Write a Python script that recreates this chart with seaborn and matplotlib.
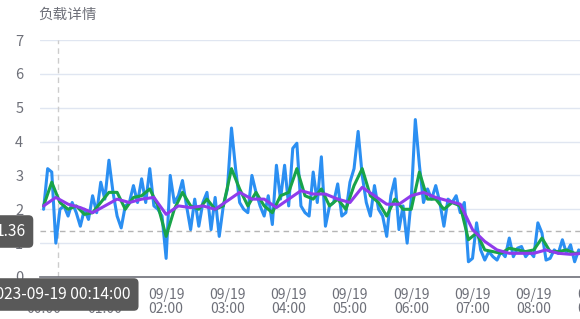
import pandas as pd
import matplotlib
matplotlib.use("Agg")
import matplotlib.pyplot as plt
import matplotlib.dates as mdates
import seaborn as sns

# Server load, 2023-09-19, minutes after midnight
START = pd.Timestamp("2023-09-19 00:00:00")

load1_minutes = list(range(0, 529, 4))
load1 = [
    2.0, 3.2, 3.1, 1.0, 2.0, 2.1, 1.8, 2.2, 1.9, 1.5,
    2.0, 1.7, 2.4, 1.9, 2.8, 2.3, 3.45, 2.5, 1.8, 1.45,
    2.1, 2.2, 2.7, 2.2, 2.9, 2.2, 3.2, 2.1, 2.0, 1.8,
    0.55, 3.0, 2.2, 2.4, 2.85, 2.1, 1.4, 2.3, 1.5, 2.2,
    2.5, 1.4, 2.35, 1.2, 2.1, 2.6, 4.4, 3.2, 2.2, 2.0,
    1.9, 3.0, 2.5, 2.1, 1.8, 2.4, 1.55, 3.3, 2.3, 3.3,
    2.1, 3.8, 3.95, 2.1, 1.9, 1.8, 3.1, 2.2, 3.55, 1.5,
    2.1, 2.2, 2.75, 1.8, 1.9, 2.8, 3.2, 4.3, 3.0, 2.2,
    1.8, 2.7, 2.0, 1.8, 1.2, 2.4, 2.9, 1.4, 2.1, 1.0,
    2.3, 4.65, 3.3, 2.2, 2.6, 2.3, 2.7, 2.2, 1.5, 2.3,
    2.2, 2.4, 1.9, 2.2, 0.45, 0.55, 1.6, 0.8, 0.5, 0.75,
    0.6, 0.5, 0.75, 0.6, 1.15, 0.6, 0.85, 0.9, 0.6, 0.75,
    0.6, 1.6, 1.3, 0.5, 0.55, 0.8, 0.7, 1.1, 0.7, 0.95,
    0.45, 0.8, 0.7,
]

load5_minutes = list(range(0, 529, 8))
load5 = [
    2.1, 2.8, 2.2, 2.0, 2.1, 1.85, 1.9, 2.2, 2.5, 2.5,
    2.0, 2.35, 2.4, 2.6, 2.1, 1.2, 2.0, 2.5, 2.1, 2.0,
    2.3, 2.0, 2.1, 3.2, 2.6, 2.1, 2.5, 2.1, 1.9, 2.4,
    2.5, 3.2, 2.4, 2.3, 2.6, 2.1, 2.3, 2.0, 2.7, 3.2,
    2.4, 2.2, 1.8, 2.3, 2.0, 2.0, 3.1, 2.3, 2.3, 2.0,
    2.2, 2.1, 1.1, 1.3, 0.8, 0.75, 0.7, 0.85, 0.8, 0.75,
    0.8, 1.15, 0.75, 0.75, 0.8, 0.7, 0.7,
]

load15_minutes = list(range(0, 529, 12))
load15 = [
    2.1, 2.35, 2.15, 2.05, 1.9, 2.1, 2.3, 2.2, 2.3, 2.35,
    1.85, 2.1, 2.05, 2.1, 2.0, 2.25, 2.5, 2.3, 2.3, 2.05,
    2.3, 2.55, 2.45, 2.45, 2.3, 2.2, 2.65, 2.4, 2.15, 2.15,
    2.4, 2.5, 2.35, 2.25, 2.15, 1.4, 1.05, 0.8, 0.7, 0.7,
    0.7, 0.8, 0.7, 0.67, 0.7,
]

TITLE = "负载详情"
Y_TICKS = [0, 1, 2, 3, 4, 5, 6, 7]
POINTER_TIME = "2023-09-19 00:14:00"
POINTER_VALUE = 1.36


def to_frame(minutes, values):
    return pd.DataFrame({
        "time": START + pd.to_timedelta(minutes, unit="m"),
        "load": values,
    })


def main():
    sns.set_style("white")
    plt.rcParams["font.family"] = ["Noto Sans CJK SC", "DejaVu Sans"]

    grey = "#6e7079"
    fig = plt.figure(figsize=(5.8, 3.19), dpi=100)
    # axes runs off the right edge, like the cropped original
    ax = fig.add_axes([40 / 580, 42 / 319, 600 / 580, 237 / 319])

    series = [
        (load1_minutes, load1, "#2b8ff2"),
        (load5_minutes, load5, "#18a449"),
        (load15_minutes, load15, "#8f3bec"),
    ]
    for minutes, values, color in series:
        sns.lineplot(data=to_frame(minutes, values), x="time", y="load",
                     color=color, linewidth=2.2, ax=ax, legend=False)

    ax.set_xlim(START - pd.Timedelta(minutes=3.5), START + pd.Timedelta(minutes=584))
    ax.set_ylim(0, 7)
    ax.set_yticks(Y_TICKS)
    ax.set_xlabel("")
    ax.set_ylabel("")

    ax.xaxis.set_major_locator(mdates.HourLocator(interval=1))
    ax.xaxis.set_major_formatter(mdates.DateFormatter("%m/%d\n%H:%M"))

    for side in ["top", "right", "left"]:
        ax.spines[side].set_visible(False)
    ax.spines["bottom"].set_color(grey)
    ax.spines["bottom"].set_linewidth(1.2)
    ax.grid(axis="y", color="#e0e6f1", linewidth=1)
    ax.set_axisbelow(True)
    ax.tick_params(axis="x", length=5, color=grey, labelcolor=grey,
                   labelsize=10, pad=3)
    ax.tick_params(axis="y", length=0, labelcolor=grey, labelsize=10.5, pad=12)
    for lab in ax.get_xticklabels():
        lab.set_linespacing(1.0)

    # crosshair pointer
    t_ptr = pd.Timestamp(POINTER_TIME)
    ax.axvline(t_ptr, color="#cccccc", linewidth=1, linestyle=(0, (4, 3)), zorder=1)
    ax.axhline(POINTER_VALUE, color="#b5b5b5", linewidth=1, linestyle=(0, (4, 3)),
               zorder=1)

    fig.text(38 / 580, 1 - 15 / 319, TITLE, color=grey, fontsize=10.5,
             va="center", ha="left")

    box = dict(boxstyle="round,pad=0.5,rounding_size=0.3", fc="#595959", ec="none")
    fig.text(59 / 580, 1 - 294.5 / 319, POINTER_TIME, color="white", fontsize=11.2,
             ha="center", va="center", bbox=box, zorder=10)
    fig.text(25.5 / 580, 1 - 231.5 / 319, f"{POINTER_VALUE:.2f}", color="white",
             fontsize=11.2, ha="right", va="center", bbox=box, zorder=10)

    fig.savefig("out.png", dpi=100)
    plt.close(fig)


if __name__ == "__main__":
    main()
